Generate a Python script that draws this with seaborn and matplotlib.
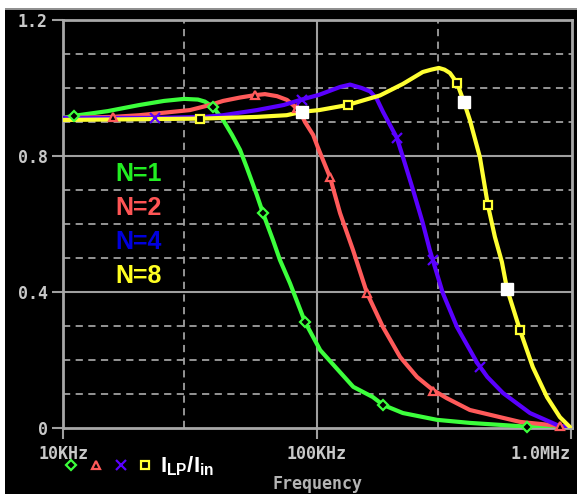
import matplotlib
matplotlib.use("Agg")
import matplotlib.pyplot as plt
from matplotlib.lines import Line2D
from matplotlib.patches import Rectangle
from matplotlib.ticker import FixedLocator, NullFormatter
import seaborn as sns
import pandas as pd

# frequency in kHz, ratio I_LP/I_in
green_f = [10, 11, 15, 20, 25, 30, 34, 36.2, 39, 42.7, 46.3, 49.8, 53, 58, 61.3, 67.1, 71.5,
           78.3, 89.7, 103, 123, 139, 166, 182, 218, 297, 400, 671, 1000]
green_v = [0.912, 0.918, 0.932, 0.95, 0.962, 0.968, 0.966, 0.96, 0.944, 0.906, 0.862, 0.818,
           0.765, 0.685, 0.632, 0.553, 0.494, 0.426, 0.312, 0.229, 0.165, 0.121, 0.091, 0.068,
           0.044, 0.024, 0.015, 0.004, 0.0]

red_f = [10, 15.7, 20, 27.1, 31.6, 37.9, 42.7, 49.8, 57, 62.4, 69.6, 76.2, 80.5, 86, 89.7,
         96.6, 101, 112.5, 123.3, 138.6, 157.4, 181.9, 212.5, 247.9, 286, 324, 400, 630,
         905, 1000]
red_v = [0.912, 0.915, 0.92, 0.93, 0.935, 0.95, 0.962, 0.972, 0.979, 0.982, 0.976, 0.965,
         0.95, 0.929, 0.9, 0.862, 0.824, 0.738, 0.632, 0.524, 0.397, 0.297, 0.209, 0.15,
         0.112, 0.088, 0.053, 0.018, 0.006, 0.0]

blue_f = [10, 23, 36.2, 42.7, 58, 74, 86, 102, 123.3, 135, 150, 162, 172, 182, 206.5, 218,
          239, 261, 278, 313, 356, 428, 469, 540, 690, 881, 1000]
blue_v = [0.912, 0.912, 0.915, 0.92, 0.935, 0.95, 0.965, 0.98, 1.003, 1.01, 1.0, 0.99,
          0.968, 0.93, 0.853, 0.797, 0.70, 0.603, 0.524, 0.397, 0.297, 0.191, 0.15, 0.103,
          0.044, 0.009, 0.0]

yellow_f = [10, 35, 58, 76, 87.3, 102, 132, 177, 218, 261, 282, 302, 318, 334, 356, 379,
            400, 438, 471, 502, 535, 560, 630, 708, 805, 905, 1000]
yellow_v = [0.906, 0.91, 0.915, 0.92, 0.93, 0.935, 0.95, 0.978, 1.012, 1.047, 1.054, 1.059,
            1.054, 1.044, 1.015, 0.959, 0.906, 0.797, 0.656, 0.562, 0.488, 0.41, 0.288,
            0.179, 0.091, 0.032, 0.0]

# marker positions on each trace
green_mk_f = [11, 39, 61.3, 89.7, 182, 671]
green_mk_v = [0.918, 0.944, 0.632, 0.312, 0.068, 0.004]
red_mk_f = [15.7, 57, 83.4, 112.5, 157.4, 286, 905]
red_mk_v = [0.915, 0.979, 0.94, 0.738, 0.397, 0.11, 0.006]
blue_mk_f = [23, 87.3, 206.5, 286, 438]
blue_mk_v = [0.912, 0.965, 0.853, 0.494, 0.18]
yellow_mk_f = [34.6, 132.5, 356, 471, 630]
yellow_mk_v = [0.91, 0.95, 1.015, 0.656, 0.288]
cursor_f = [87.3, 379, 560]
cursor_v = [0.93, 0.959, 0.41]

names = ["N=1", "N=2", "N=4", "N=8"]
line_colors = ["#3cff3c", "#ff5a5a", "#5a00ff", "#ffff33"]
text_colors = ["#22ee22", "#ff5555", "#0000dd", "#ffff22"]
x_ticks = [1e4, 1e5, 1e6]
x_ticklabels = ["10KHz", "100KHz", "1.0MHz"]
y_ticks = [0, 0.4, 0.8, 1.2]
y_ticklabels = ["0", "0.4", "0.8", "1.2"]

series = [(green_f, green_v), (red_f, red_v), (blue_f, blue_v), (yellow_f, yellow_v)]
frames = []
for name, (f, v) in zip(names, series):
    frames.append(pd.DataFrame({"freq": [x * 1e3 for x in f], "ratio": v, "N": name}))
df = pd.concat(frames, ignore_index=True)

sns.set_style("ticks")
plt.rcParams["mathtext.fontset"] = "custom"
plt.rcParams["mathtext.bf"] = "Liberation Sans:bold"
plt.rcParams["mathtext.rm"] = "Liberation Sans"

fig = plt.figure(figsize=(5.77, 4.94), dpi=100, facecolor="black")
ax = fig.add_axes([63 / 577, 1 - 428 / 494, 509 / 577, 408 / 494])
ax.set_facecolor("black")

# grid first so traces sit on top
grid_c = "#a0a0a0"
for y in [0.4, 0.8]:
    ax.axhline(y, color=grid_c, lw=1.5, zorder=1)
for y in [0.1, 0.2, 0.3, 0.5, 0.6, 0.7, 0.9, 1.0, 1.1]:
    ax.axhline(y, color=grid_c, lw=1.3, ls=(0, (4, 3)), zorder=1)
ax.axvline(1e5, color=grid_c, lw=1.5, zorder=1)
for x in [3e4, 3e5]:
    ax.axvline(x, color=grid_c, lw=1.3, ls=(0, (4, 3)), zorder=1)

sns.lineplot(data=df, x="freq", y="ratio", hue="N", palette=dict(zip(names, line_colors)),
             estimator=None, sort=False, linewidth=3, legend=False, ax=ax, zorder=3)

mk = dict(ls="none", mfc="black", mew=1.6, zorder=4, clip_on=False)
ax.plot([f * 1e3 for f in green_mk_f], green_mk_v, marker="D", ms=5, mec=line_colors[0], **mk)
ax.plot([f * 1e3 for f in red_mk_f], red_mk_v, marker="^", ms=6, mec=line_colors[1], **mk)
ax.plot([f * 1e3 for f in blue_mk_f], blue_mk_v, marker="x", ms=7, mec=line_colors[2], **mk)
ax.plot([f * 1e3 for f in yellow_mk_f], yellow_mk_v, marker="s", ms=6, mec=line_colors[3], **mk)
ax.plot([f * 1e3 for f in cursor_f], cursor_v, ls="none", marker="s", ms=8, mfc="white",
        mec="white", zorder=5)

ax.set_xscale("log")
ax.set_xlim(1e4, 1.01e6)
ax.set_ylim(0, 1.2)
ax.set_xlabel("")
ax.set_ylabel("")

tick_font = dict(family="DejaVu Sans Mono", weight="bold", size=12)
ax.xaxis.set_major_locator(FixedLocator(x_ticks))
ax.xaxis.set_minor_locator(FixedLocator([]))
ax.xaxis.set_minor_formatter(NullFormatter())
ax.set_xticklabels(x_ticklabels, color="#c8c8c8", fontdict=tick_font)
ax.get_xticklabels()[-1].set_horizontalalignment("right")
ax.get_xticklabels()[-1].set_x(1.012e6)
ax.set_yticks(y_ticks)
ax.set_yticklabels(y_ticklabels, color="#c8c8c8", fontdict=tick_font)
ax.tick_params(axis="both", which="major", direction="out", length=8, width=1.5,
               color=grid_c)
ax.tick_params(axis="x", pad=4)
ax.tick_params(axis="y", pad=3)

for s in ax.spines.values():
    s.set_color("#a8a8a8")
    s.set_linewidth(2)
    s.set_zorder(2)

# N= annotations
for i, (name, c) in enumerate(zip(names, text_colors)):
    ax.text(0.102, 0.6225 - i * 0.0833, name, transform=ax.transAxes, color=c,
            fontsize=18, fontweight="bold", family="Liberation Sans", va="center", ha="left")

fig.text(317 / 577, 1 - 484 / 494, "Frequency", color="#b4b4b4", ha="center", va="center",
         **tick_font)

# trace legend under the axis
leg_y = 1 - 465 / 494
leg_marks = [("D", 5), ("^", 6), ("x", 7), ("s", 6)]
for x, (m, ms), c in zip([71, 96, 121, 145], leg_marks, line_colors):
    fig.add_artist(Line2D([x / 577], [leg_y], transform=fig.transFigure, marker=m, ms=ms,
                          mfc="black", mec=c, mew=1.6, ls="none"))
fig.text(160 / 577, 1 - 472 / 494, r"$\mathbf{I}_{\mathbf{LP}}\mathbf{/I}_{\mathbf{in}}$",
         color="white", fontsize=16, ha="left", va="baseline")

# white frame edge of the screenshot
fig.add_artist(Rectangle((0, 1 - 8 / 494), 1, 8 / 494, transform=fig.transFigure,
                         facecolor="white", edgecolor="none"))
fig.add_artist(Rectangle((0, 1 - 10 / 494), 1, 2 / 494, transform=fig.transFigure,
                         facecolor="#909090", edgecolor="none"))
fig.add_artist(Rectangle((0, 0), 5 / 577, 1, transform=fig.transFigure,
                         facecolor="white", edgecolor="none"))

fig.savefig("out.png", dpi=100, facecolor="black")
